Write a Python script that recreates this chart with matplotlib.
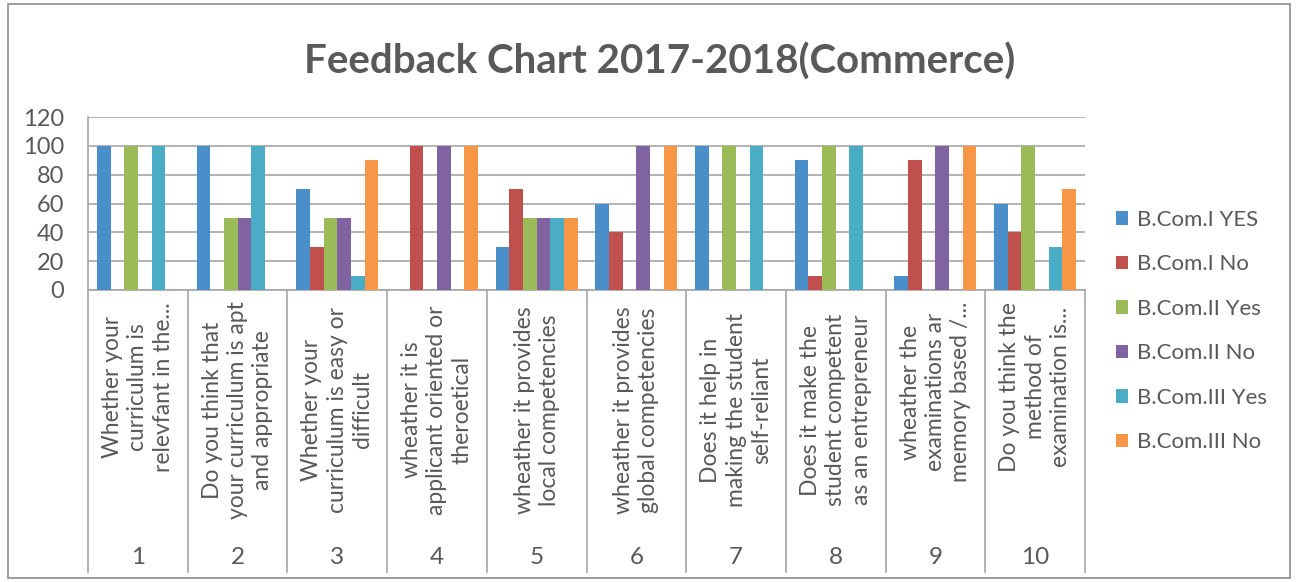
import matplotlib
matplotlib.use("Agg")
import matplotlib.pyplot as plt
from matplotlib.patches import Patch, Rectangle
import matplotlib.transforms as mtransforms
import numpy as np

plt.rcParams["font.family"] = ["Lato", "DejaVu Sans"]

# category axis: question text (upper level) and question number (lower level)
questions = [
    "Whether your\ncurriculum is\nrelevfant in the...",
    "Do you think that\nyour curriculum is apt\nand appropriate",
    "Whether your\ncurriculum is easy or\ndifficult",
    "wheather it is\napplicant oriented or\ntheroetical",
    "wheather it provides\nlocal competencies",
    "wheather it provides\nglobal competencies",
    "Does it help in\nmaking the student\nself-reliant",
    "Does it make the\nstudent competent\nas an entrepreneur",
    "wheather the\nexaminations ar\nmemory based /...",
    "Do you think the\nmethod of\nexamination is...",
]
numbers = ["1", "2", "3", "4", "5", "6", "7", "8", "9", "10"]

series_names = ["B.Com.I YES", "B.Com.I No", "B.Com.II Yes",
                "B.Com.II No", "B.Com.III Yes", "B.Com.III No"]
bcom1_yes = [100, 100, 70, 0, 30, 60, 100, 90, 10, 60]
bcom1_no = [0, 0, 30, 100, 70, 40, 0, 10, 90, 40]
bcom2_yes = [100, 50, 50, 0, 50, 0, 100, 100, 0, 100]
bcom2_no = [0, 50, 50, 100, 50, 100, 0, 0, 100, 0]
bcom3_yes = [100, 100, 10, 0, 50, 0, 100, 100, 0, 30]
bcom3_no = [0, 0, 90, 100, 50, 100, 0, 0, 100, 70]
series = [bcom1_yes, bcom1_no, bcom2_yes, bcom2_no, bcom3_yes, bcom3_no]

colors = ["#4A8FC9", "#C0504D", "#9BBB59", "#8064A2", "#4BACC6", "#F79646"]
text_color = "#595959"
grid_color = "#A6A6A6"

W, H = 1296, 582
fig = plt.figure(figsize=(W / 100, H / 100), dpi=100)

# plot area in pixels: x 88..1085, y 117 (120) .. 290 (0)
x0, x1, y_top, y_zero = 88, 1085, 117, 290
ax = fig.add_axes([x0 / W, (H - y_zero) / H, (x1 - x0) / W, (y_zero - y_top) / H])

x = np.arange(len(questions))
bw = 0.137
for i, (vals, c, name) in enumerate(zip(series, colors, series_names)):
    ax.bar(x + (i - 2.5) * bw, vals, width=bw, color=c, label=name, zorder=3)

ax.set_xlim(-0.5, len(questions) - 0.5)
ax.set_ylim(0, 120)
ax.set_yticks(range(0, 121, 20))
ax.yaxis.grid(True, color=grid_color, lw=1.2, zorder=0)
ax.tick_params(axis="y", length=0, labelsize=17, labelcolor=text_color, pad=17)
ax.set_xticks([])
for s in ["top", "right"]:
    ax.spines[s].set_visible(False)
for s in ["left", "bottom"]:
    ax.spines[s].set_color(grid_color)
    ax.spines[s].set_linewidth(1.2)

# multi-level category labels below the axis
px = 1.0 / (y_zero - y_top)  # one pixel in axes units
trans = mtransforms.blended_transform_factory(ax.transData, ax.transAxes)
div_bottom = -(572 - y_zero) * px
for b in np.arange(-0.5, len(questions), 1.0):
    ax.plot([b, b], [0, div_bottom], color=grid_color, lw=1.2,
            transform=trans, clip_on=False)

for xi, q, n in zip(x, questions, numbers):
    if q.endswith("..."):
        # truncated labels sit against the axis
        ax.text(xi, -(302 - y_zero) * px, q, transform=trans,
                rotation=90, ha="center", va="top", multialignment="center",
                fontsize=16.5, color=text_color, linespacing=1.25)
    else:
        ax.text(xi, -(410 - y_zero) * px, q, transform=trans,
                rotation=90, ha="center", va="center", multialignment="center",
                fontsize=16.5, color=text_color, linespacing=1.25)
    ax.text(xi, -(558 - y_zero) * px, n, transform=trans, ha="center",
            va="center", fontsize=17.5, color=text_color)

fig.text(660 / W, 1 - 62 / H, "Feedback Chart 2017-2018(Commerce)",
         ha="center", va="center", fontsize=29, fontweight="bold",
         color=text_color)

handles = [Patch(facecolor=c, label=n) for c, n in zip(colors, series_names)]
fig.legend(handles=handles, loc="upper left",
           bbox_to_anchor=(1096 / W, 1 - 190 / H), frameon=False,
           fontsize=16, labelcolor=text_color, handlelength=0.55,
           handleheight=0.55, handletextpad=0.4, labelspacing=1.1)

# chart border
fig.patches.append(Rectangle((8 / W, 4 / H), 1282 / W, 574 / H,
                             transform=fig.transFigure, fill=False,
                             edgecolor="#8C8C8C", lw=1.2))

fig.savefig("out.png", dpi=100)
